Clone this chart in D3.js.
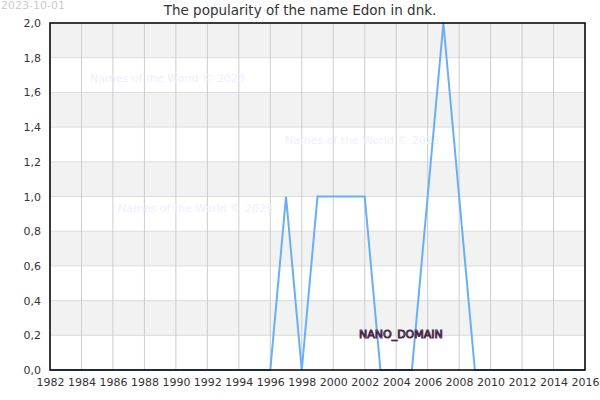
<!DOCTYPE html>
<html>
<head>
<meta charset="utf-8">
<script src="https://cdn.jsdelivr.net/npm/d3@7"></script>
<style>
  body { margin: 0; background: #fff; }
  svg { font-family: "DejaVu Sans", sans-serif; }
</style>
</head>
<body>
<div id="chart"></div>
<script>
// Popularity of Edon per year
const years = d3.range(1982, 2017);
const values = [
  0, 0, 0, 0, 0, 0, 0, 0, 0, 0,   // 1982-1991
  0, 0, 0, 0, 0, 1, 0, 1, 1, 1,   // 1992-2001
  1, 0, 0, 0, 1, 2, 1, 0, 0, 0,   // 2002-2011
  0, 0, 0, 0, 0                   // 2012-2016
];
const yTicks = [0, 0.2, 0.4, 0.6, 0.8, 1.0, 1.2, 1.4, 1.6, 1.8, 2.0];
const xTicks = d3.range(1982, 2017, 2);
const watermarks = [
  {x: 90, y: 82}, {x: 285, y: 144}, {x: 118, y: 212}
];

const width = 600, height = 400;
const marginTop = 23, marginRight = 15, marginBottom = 30, marginLeft = 50;

const svg = d3.select("#chart").append("svg")
    .attr("width", width)
    .attr("height", height);

const x = d3.scaleLinear([1982, 2016], [marginLeft, width - marginRight]);
const y = d3.scaleLinear([0, 2], [height - marginBottom, marginTop]);

// alternating bands
svg.append("g")
  .selectAll("rect")
  .data(d3.range(0, 10))
  .join("rect")
    .attr("x", marginLeft)
    .attr("width", x(2016) - x(1982))
    .attr("y", i => y((i + 1) * 0.2))
    .attr("height", i => y(i * 0.2) - y((i + 1) * 0.2))
    .attr("fill", i => i % 2 === 1 ? "#f2f2f2" : "#fff");

// horizontal grid
svg.append("g")
  .selectAll("line")
  .data(yTicks)
  .join("line")
    .attr("x1", marginLeft)
    .attr("x2", width - marginRight)
    .attr("y1", d => y(d))
    .attr("y2", d => y(d))
    .attr("stroke", "#ddd");

// vertical grid
svg.append("g")
  .selectAll("line")
  .data(xTicks)
  .join("line")
    .attr("x1", d => x(d))
    .attr("x2", d => x(d))
    .attr("y1", marginTop)
    .attr("y2", height - marginBottom)
    .attr("stroke", "#ccc");

// watermarks
svg.append("g")
  .selectAll("text")
  .data(watermarks)
  .join("text")
    .attr("x", d => d.x)
    .attr("y", d => d.y)
    .attr("fill", "#eeeeff")
    .style("font-size", "11px")
    .text("Names of the World © 2023");

// line
const line = d3.line()
    .x((d, i) => x(years[i]))
    .y(d => y(d));

svg.append("path")
    .datum(values)
    .attr("fill", "none")
    .attr("stroke", "#6aaef5")
    .attr("stroke-width", 2)
    .attr("d", line);

// frame
svg.append("rect")
    .attr("x", marginLeft)
    .attr("y", marginTop)
    .attr("width", x(2016) - x(1982))
    .attr("height", y(0) - y(2))
    .attr("fill", "none")
    .attr("stroke", "#000")
    .attr("stroke-width", 1.5);

// axes
const fmt = d => d3.format(".1f")(d).replace(".", ",");
svg.append("g")
    .attr("transform", `translate(${marginLeft},0)`)
    .call(d3.axisLeft(y).tickValues(yTicks).tickFormat(fmt).tickSize(0).tickPadding(9))
    .call(g => g.select(".domain").remove())
    .call(g => g.selectAll("text").attr("fill", "#333").style("font-size", "11px").style("font-family", "DejaVu Sans"));

svg.append("g")
    .attr("transform", `translate(0,${height - marginBottom})`)
    .call(d3.axisBottom(x).tickValues(xTicks).tickFormat(d3.format("d")).tickSize(0).tickPadding(8))
    .call(g => g.select(".domain").remove())
    .call(g => g.selectAll("text").attr("fill", "#333").style("font-size", "11px").style("font-family", "DejaVu Sans"));

// title
svg.append("text")
    .attr("x", 300)
    .attr("y", 15)
    .attr("text-anchor", "middle")
    .attr("fill", "#333")
    .style("font-size", "13.5px")
    .text("The popularity of the name Edon in dnk.");

// date stamp
svg.append("text")
    .attr("x", 1)
    .attr("y", 9)
    .attr("fill", "#ccc")
    .style("font-size", "11px")
    .text("2023-10-01");

// domain label
svg.append("text")
    .attr("x", 359)
    .attr("y", 338)
    .attr("fill", "#f0e4f4")
    .attr("stroke", "#4a2a4a")
    .attr("stroke-width", 1)
    .attr("paint-order", "fill")
    .style("font-size", "11px")
    .text("NANO_DOMAIN");
</script>
</body>
</html>
